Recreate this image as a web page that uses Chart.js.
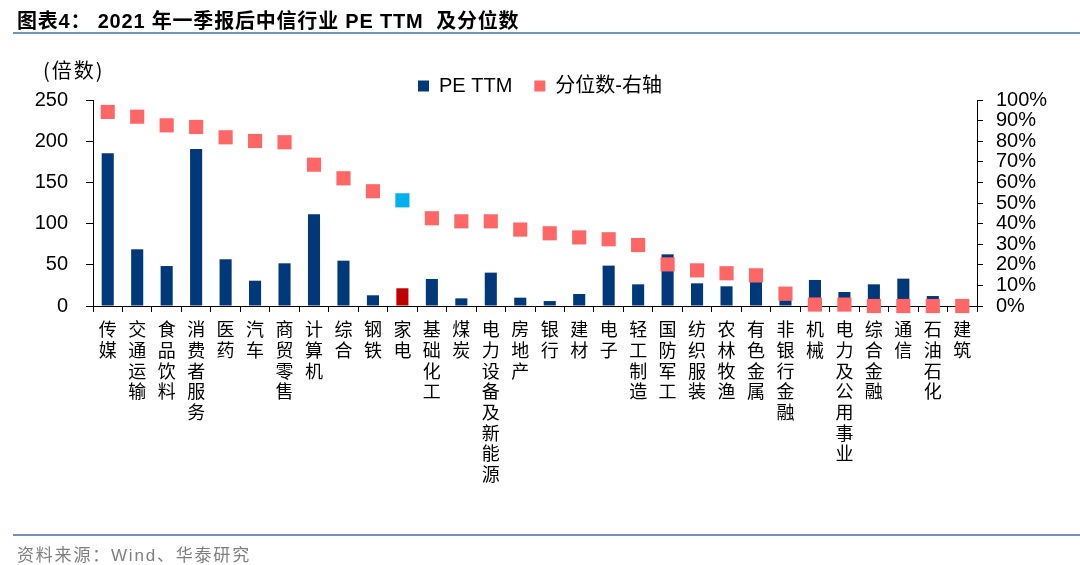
<!DOCTYPE html>
<html>
<head>
<meta charset="utf-8">
<script src="https://cdn.jsdelivr.net/npm/chart.js@4.4.1/dist/chart.umd.min.js"></script>
<style>
  html, body { margin: 0; padding: 0; background: #fff; }
  #wrap { position: relative; width: 1080px; height: 565px; overflow: hidden; }
  #cv { position: absolute; left: 0; top: 0; }
  .ov { position: absolute; pointer-events: none; z-index: 2; white-space: pre; line-height: 1; }
  #title { left: 17px; top: 5px; font: bold 20px "Liberation Sans", "Noto Sans CJK SC", sans-serif; letter-spacing: 0.8px; color: #000; }
  #line1 { left: 13px; top: 32px; width: 1067px; height: 2px; background: #7391BC; }
  #line2 { left: 13px; top: 534px; width: 1067px; height: 2px; background: #7391BC; }
  #src { left: 17px; top: 541px; font: 17px "Liberation Sans", "Noto Sans CJK SC", sans-serif; letter-spacing: 1.8px; color: #7f7f7f; }
  #unit { left: 43px; top: 55px; font: 20px "Noto Sans CJK SC", sans-serif; letter-spacing: 2px; color: #000; }
</style>
</head>
<body>
<div id="wrap">
  <canvas id="cv" width="1080" height="565"></canvas>
  <div class="ov" id="title">图表4： 2021 年一季报后中信行业 PE TTM  及分位数</div>
  <div class="ov" id="line1"></div>
  <div class="ov" id="unit">(倍数)</div>
  <div class="ov" id="line2"></div>
  <div class="ov" id="src">资料来源：Wind、华泰研究</div>
</div>
<script>
// ---- data ----
const categories = ["传媒","交通运输","食品饮料","消费者服务","医药","汽车","商贸零售","计算机","综合","钢铁","家电","基础化工","煤炭","电力设备及新能源","房地产","银行","建材","电子","轻工制造","国防军工","纺织服装","农林牧渔","有色金属","非银行金融","机械","电力及公用事业","综合金融","通信","石油石化","建筑"];
const peTTM = [185.3, 68.8, 48.5, 190.5, 56.7, 30.7, 51.8, 111.3, 55.0, 13.0, 21.5, 32.8, 9.3, 40.5, 10.1, 6.0, 14.6, 49.0, 26.3, 62.7, 27.5, 23.9, 29.0, 7.0, 31.6, 17.0, 26.3, 33.2, 12.1, 8.0];
const percentile = [94.2, 91.9, 87.7, 86.9, 81.9, 80.1, 79.5, 68.6, 62.0, 55.7, 51.3, 42.6, 41.1, 41.1, 37.1, 35.3, 33.3, 32.4, 29.6, 20.2, 17.3, 15.9, 14.9, 6.0, 0.7, 0.7, 0, 0, 0, 0];
const leftTicks = [0, 50, 100, 150, 200, 250];
const rightTicks = [0, 10, 20, 30, 40, 50, 60, 70, 80, 90, 100];
const seriesNames = ["PE TTM", "分位数-右轴"];
const highlightCategory = "家电";

// ---- styles ----
const NAVY = "#00387A", DARKRED = "#C00000", PINK = "#FF6666", CYAN = "#00B0F0";
const barColors = categories.map(c => c === highlightCategory ? DARKRED : NAVY);
const pointColors = categories.map(c => c === highlightCategory ? CYAN : PINK);
const verticalLabels = categories.map(c => Array.from(c));

Chart.defaults.font.family = "'Liberation Sans', 'Noto Sans CJK SC', sans-serif";
Chart.defaults.color = "#000";

const legendShrink = {
  id: 'legendShrink',
  beforeLayout(chart) {
    const lg = chart.legend;
    if (lg && !lg._shrunk) {
      const f = lg.fit;
      lg.fit = function () { f.call(this); this.height -= 6; };
      lg._shrunk = true;
    }
  }
};

new Chart(document.getElementById('cv'), {
  data: {
    labels: verticalLabels,
    datasets: [
      {
        type: 'bar',
        label: seriesNames[0],
        data: peTTM,
        backgroundColor: barColors,
        borderWidth: 0,
        pointStyle: 'rect',
        yAxisID: 'y',
        order: 1,
        categoryPercentage: 1,
        barPercentage: 0.41
      },
      {
        type: 'line',
        label: seriesNames[1],
        data: percentile,
        showLine: false,
        pointStyle: 'rect',
        pointRadius: 10,
        pointHoverRadius: 10,
        pointBackgroundColor: pointColors,
        pointBorderWidth: 0,
        borderColor: PINK,
        backgroundColor: PINK,
        yAxisID: 'y1',
        order: 0,
        clip: false
      }
    ]
  },
  options: {
    responsive: false,
    animation: false,
    events: [],
    layout: { padding: { top: 54, left: 0, right: 0, bottom: 0 } },
    plugins: {
      tooltip: { enabled: false },
      legend: {
        position: 'top',
        labels: {
          usePointStyle: true,
          pointStyle: 'rect',
          boxWidth: 11,
          boxHeight: 11,
          padding: 22,
          font: { size: 20 },
          color: '#000',
          sort: (a, b) => a.datasetIndex - b.datasetIndex
        }
      }
    },
    scales: {
      x: {
        type: 'category',
        offset: true,
        grid: { display: true, drawOnChartArea: false, offset: true, tickLength: 6, color: '#000', tickColor: '#000' },
        border: { display: true, color: '#000', width: 1 },
        ticks: {
          autoSkip: false, maxRotation: 0, minRotation: 0, padding: 7,
          font: { family: "'Noto Sans CJK SC', sans-serif", size: 18, lineHeight: 1.15 },
          color: '#000'
        },
        afterFit: s => { s.height = 259; }
      },
      y: {
        position: 'left',
        min: 0, max: 250,
        afterBuildTicks: s => { s.ticks = leftTicks.map(v => ({ value: v })); },
        grid: { drawOnChartArea: false, tickLength: 7, tickColor: '#000' },
        border: { display: true, color: '#000', width: 1 },
        ticks: { autoSkip: false, padding: 18, font: { size: 20 }, color: '#000' },
        afterFit: s => { s.width = 93; }
      },
      y1: {
        position: 'right',
        min: 0, max: 100,
        afterBuildTicks: s => { s.ticks = rightTicks.map(v => ({ value: v })); },
        grid: { drawOnChartArea: false, tickLength: 6, tickColor: '#000' },
        border: { display: true, color: '#000', width: 1 },
        ticks: { autoSkip: false, padding: 13, font: { size: 20 }, color: '#000', callback: v => v + '%' },
        afterFit: s => { s.width = 103; }
      }
    }
  },
  plugins: [legendShrink]
});
</script>
</body>
</html>
